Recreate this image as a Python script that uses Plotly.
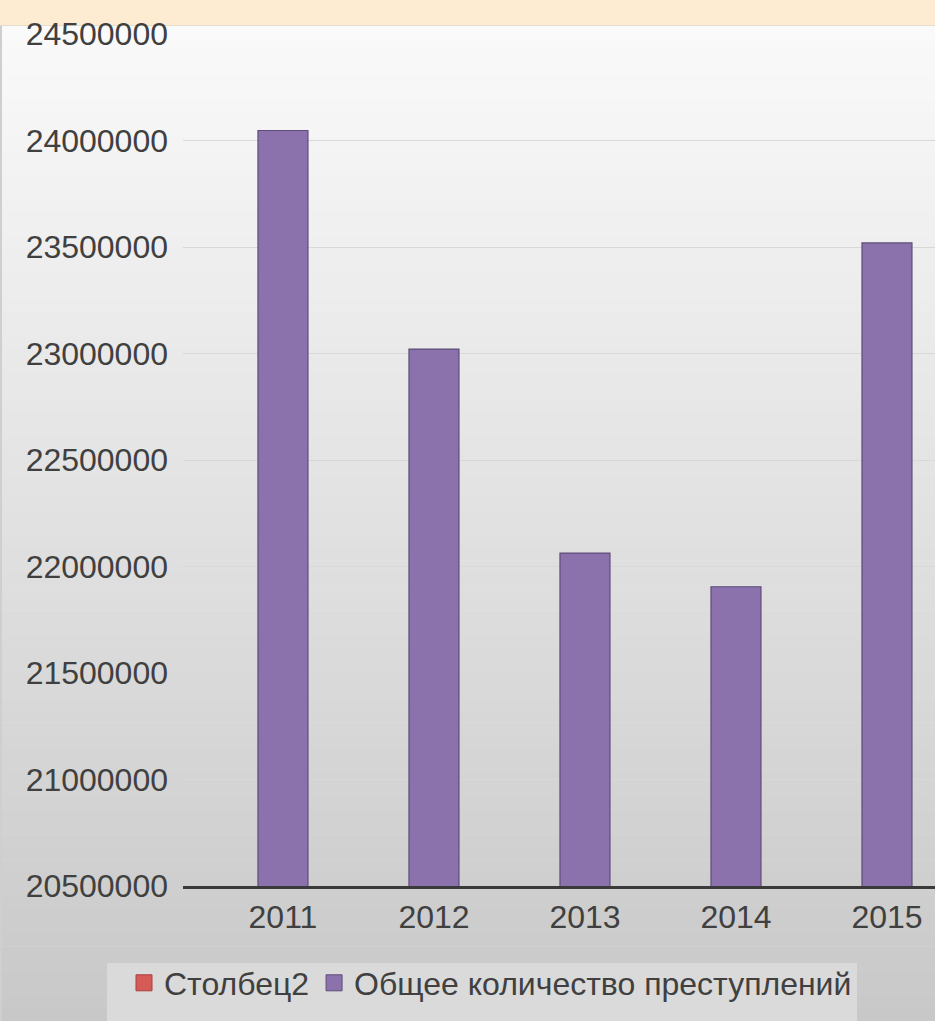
import plotly.graph_objects as go

years = ["2011", "2012", "2013", "2014", "2015"]
total_crimes = [24047000, 23021000, 22063000, 21905000, 23519000]
stolbets2 = [None, None, None, None, None]
y_ticks = [20500000, 21000000, 21500000, 22000000, 22500000, 23000000, 23500000, 24000000, 24500000]

W, H = 935, 1021
L, R, T, B = 183, 0, 34, 135
PW, PH = W - L - R, H - T - B

def px_x(X):
    return (X - L) / PW

def px_y(Y):
    return (H - B - Y) / PH

FONT = "Liberation Sans, Arial, sans-serif"
TXT = "#404040"
PURPLE = "#8B72AD"
RED = "#D65A55"

fig = go.Figure()
fig.add_trace(go.Bar(x=years, y=stolbets2, name="Столбец2", marker_color=RED,
                     width=0.331, showlegend=False))
fig.add_trace(go.Bar(x=years, y=total_crimes, name="Общее количество преступлений",
                     marker=dict(color=PURPLE, line=dict(color="#5E4C78", width=1.2)),
                     width=0.331, showlegend=False))
# legend entries
fig.add_trace(go.Scatter(x=[None], y=[None], mode="markers", name="Столбец2",
                         marker=dict(symbol="square", size=18, color=RED,
                                     line=dict(color="#A8403C", width=1))))
fig.add_trace(go.Scatter(x=[None], y=[None], mode="markers", name="Общее количество преступлений",
                         marker=dict(symbol="square", size=18, color=PURPLE,
                                     line=dict(color="#5E4C78", width=1))))

shapes = []
# gradient background
N = 80
top_c = (250, 250, 250)
bot_c = (200, 200, 200)
y0px = 25
for i in range(N):
    a = y0px + (H - y0px) * i / N
    b = y0px + (H - y0px) * (i + 1) / N
    t = (i + 0.5) / N
    c = tuple(int(round(top_c[k] + (bot_c[k] - top_c[k]) * t)) for k in range(3))
    shapes.append(dict(type="rect", xref="paper", yref="paper", layer="below",
                       x0=px_x(0), x1=px_x(W), y0=px_y(b + 0.5), y1=px_y(a),
                       fillcolor="rgb(%d,%d,%d)" % c, line=dict(width=0)))
# peach band
shapes.append(dict(type="rect", xref="paper", yref="paper", layer="below",
                   x0=px_x(0), x1=px_x(W), y0=px_y(25), y1=px_y(-2),
                   fillcolor="#FDEBD2", line=dict(width=0)))
shapes.append(dict(type="line", xref="paper", yref="paper", layer="below",
                   x0=px_x(0), x1=px_x(W), y0=px_y(25.5), y1=px_y(25.5),
                   line=dict(color="#E6DCCB", width=1)))
shapes.append(dict(type="line", xref="paper", yref="paper", layer="below",
                   x0=px_x(1), x1=px_x(1), y0=px_y(H), y1=px_y(26),
                   line=dict(color="#CFCFCF", width=2)))
# legend box
shapes.append(dict(type="rect", xref="paper", yref="paper", layer="below",
                   x0=px_x(107), x1=px_x(857), y0=px_y(H + 5), y1=px_y(963),
                   fillcolor="#DADADA", line=dict(width=0)))

fig.update_layout(
    width=W, height=H,
    margin=dict(l=L, r=R, t=T, b=B, pad=0),
    paper_bgcolor="rgba(0,0,0,0)",
    plot_bgcolor="rgba(0,0,0,0)",
    barmode="overlay",
    shapes=shapes,
    font=dict(family=FONT, color=TXT, size=32),
    showlegend=True,
    legend=dict(orientation="h", x=px_x(124), xanchor="left", y=px_y(983), yanchor="middle",
                bgcolor="rgba(0,0,0,0)", font=dict(family=FONT, size=32, color=TXT),
                itemwidth=30, tracegroupgap=0),
    xaxis=dict(type="category", range=[-0.662, 4.318], showgrid=False,
               showline=True, linecolor="#3A3A3A", linewidth=2.5,
               ticks="", tickfont=dict(family=FONT, size=32, color=TXT),
               ticklabelstandoff=1, fixedrange=True),
    yaxis=dict(range=[20500000, 24500000], tickvals=y_ticks,
               ticktext=[str(v) for v in y_ticks],
               showgrid=True, gridcolor="#D8D8D8", gridwidth=1,
               zeroline=False, showline=False, ticks="",
               tickfont=dict(family=FONT, size=32, color=TXT),
               ticklabelstandoff=14, fixedrange=True),
)

fig.write_html("out.html", config={"displayModeBar": False},
               post_script="document.body.style.margin='0px';document.body.style.overflow='hidden';")
